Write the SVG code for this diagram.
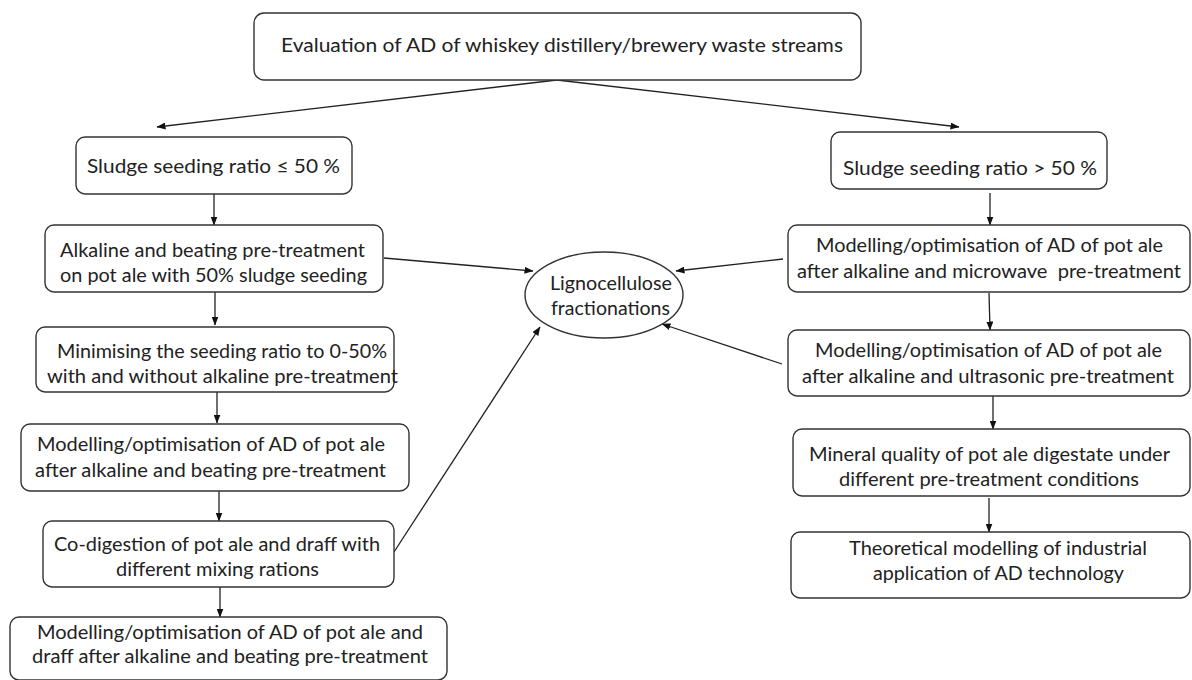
<svg xmlns="http://www.w3.org/2000/svg" width="1192" height="680" viewBox="0 0 1192 680">
  <style>
    .box { fill: #ffffff; stroke: #333333; stroke-width: 1.4; }
    .oval { fill: #ffffff; stroke: #333333; stroke-width: 1.4; }
    .lbl { font-family: Lato, "Liberation Sans", sans-serif; font-size: 18.5px; fill: #222222; }
    .edge { fill: none; stroke: #222222; stroke-width: 1.3; marker-end: url(#arrow); }
  </style>
  <defs>
    <marker id="arrow" markerUnits="userSpaceOnUse" markerWidth="9" markerHeight="7" refX="8.5" refY="3.5" orient="auto">
      <path d="M0,0 L9,3.5 L0,7 z" fill="#111111"/>
    </marker>
  </defs>
  <rect width="1192" height="680" fill="#ffffff"/>

  <!-- connectors -->
  <g id="connectors">
    <line class="edge" x1="557" y1="80" x2="157" y2="127"/>
    <line class="edge" x1="557" y1="80" x2="959" y2="127"/>
    <line class="edge" x1="214" y1="194" x2="214" y2="225"/>
    <line class="edge" x1="215" y1="292" x2="215" y2="325"/>
    <line class="edge" x1="217" y1="392" x2="217" y2="423"/>
    <line class="edge" x1="219" y1="491" x2="219" y2="521"/>
    <line class="edge" x1="220" y1="587" x2="220" y2="617"/>
    <line class="edge" x1="384" y1="258" x2="533" y2="271"/>
    <line class="edge" x1="394" y1="552" x2="540" y2="327"/>
    <line class="edge" x1="783" y1="259" x2="676" y2="271"/>
    <line class="edge" x1="782" y1="364" x2="662" y2="324"/>
    <line class="edge" x1="990" y1="193" x2="990" y2="225"/>
    <line class="edge" x1="989" y1="293" x2="990" y2="330"/>
    <line class="edge" x1="993" y1="396" x2="993" y2="429"/>
    <line class="edge" x1="989" y1="498" x2="989" y2="532"/>
  </g>

  <g id="n-evaluation">
    <rect class="box" x="254" y="13" width="607" height="67" rx="10"/>
    <text class="lbl" x="281" y="52" textLength="562" lengthAdjust="spacingAndGlyphs">Evaluation of AD of whiskey distillery/brewery waste streams</text>
  </g>

  <g id="n-seed-low">
    <rect class="box" x="76" y="137" width="276" height="57" rx="9"/>
    <text class="lbl" x="87" y="173" textLength="253" lengthAdjust="spacingAndGlyphs">Sludge seeding ratio ≤ 50 %</text>
  </g>

  <g id="n-alkaline-beating">
    <rect class="box" x="45" y="225" width="338" height="67" rx="9"/>
    <text class="lbl" x="60" y="257" textLength="305" lengthAdjust="spacingAndGlyphs">Alkaline and beating pre-treatment</text>
    <text class="lbl" x="60" y="282" textLength="307" lengthAdjust="spacingAndGlyphs">on pot ale with 50% sludge seeding</text>
  </g>

  <g id="n-minimising">
    <rect class="box" x="36" y="327" width="358" height="65" rx="9"/>
    <text class="lbl" x="57" y="358" textLength="330" lengthAdjust="spacingAndGlyphs">Minimising the seeding ratio to 0-50%</text>
    <text class="lbl" x="47" y="383" textLength="351" lengthAdjust="spacingAndGlyphs">with and without alkaline pre-treatment</text>
  </g>

  <g id="n-model-beating">
    <rect class="box" x="21" y="424" width="388" height="67" rx="9"/>
    <text class="lbl" x="37" y="451" textLength="348" lengthAdjust="spacingAndGlyphs">Modelling/optimisation of AD of pot ale</text>
    <text class="lbl" x="35" y="477" textLength="351" lengthAdjust="spacingAndGlyphs">after alkaline and beating pre-treatment</text>
  </g>

  <g id="n-codigestion">
    <rect class="box" x="43" y="521" width="351" height="66" rx="9"/>
    <text class="lbl" x="54" y="551" textLength="326" lengthAdjust="spacingAndGlyphs">Co-digestion of pot ale and draff with</text>
    <text class="lbl" x="116" y="576" textLength="203" lengthAdjust="spacingAndGlyphs">different mixing rations</text>
  </g>

  <g id="n-model-draff">
    <rect class="box" x="10" y="617" width="437" height="63" rx="9"/>
    <text class="lbl" x="37" y="639" textLength="386" lengthAdjust="spacingAndGlyphs">Modelling/optimisation of AD of pot ale and</text>
    <text class="lbl" x="32" y="663" textLength="396" lengthAdjust="spacingAndGlyphs">draff after alkaline and beating pre-treatment</text>
  </g>

  <g id="n-lignocellulose">
    <ellipse class="oval" cx="604" cy="295" rx="79" ry="43"/>
    <text class="lbl" x="550" y="290" textLength="122" lengthAdjust="spacingAndGlyphs">Lignocellulose</text>
    <text class="lbl" x="551" y="315" textLength="119" lengthAdjust="spacingAndGlyphs">fractionations</text>
  </g>

  <g id="n-seed-high">
    <rect class="box" x="831" y="132" width="276" height="57" rx="9"/>
    <text class="lbl" x="843" y="175" textLength="254" lengthAdjust="spacingAndGlyphs">Sludge seeding ratio &gt; 50 %</text>
  </g>

  <g id="n-model-microwave">
    <rect class="box" x="788" y="225" width="402" height="67" rx="9"/>
    <text class="lbl" x="816" y="252" textLength="347" lengthAdjust="spacingAndGlyphs">Modelling/optimisation of AD of pot ale</text>
    <text class="lbl" x="797" y="278" textLength="384" lengthAdjust="spacingAndGlyphs" xml:space="preserve">after alkaline and microwave  pre-treatment</text>
  </g>

  <g id="n-model-ultrasonic">
    <rect class="box" x="788" y="330" width="402" height="66" rx="9"/>
    <text class="lbl" x="815" y="357" textLength="347" lengthAdjust="spacingAndGlyphs">Modelling/optimisation of AD of pot ale</text>
    <text class="lbl" x="802" y="383" textLength="372" lengthAdjust="spacingAndGlyphs">after alkaline and ultrasonic pre-treatment</text>
  </g>

  <g id="n-mineral">
    <rect class="box" x="793" y="429" width="397" height="67" rx="9"/>
    <text class="lbl" x="809" y="461" textLength="361" lengthAdjust="spacingAndGlyphs">Mineral quality of pot ale digestate under</text>
    <text class="lbl" x="839" y="486" textLength="300" lengthAdjust="spacingAndGlyphs">different pre-treatment conditions</text>
  </g>

  <g id="n-theoretical">
    <rect class="box" x="791" y="532" width="399" height="66" rx="9"/>
    <text class="lbl" x="849" y="555" textLength="298" lengthAdjust="spacingAndGlyphs">Theoretical modelling of industrial</text>
    <text class="lbl" x="873" y="580" textLength="251" lengthAdjust="spacingAndGlyphs">application of AD technology</text>
  </g>
</svg>
